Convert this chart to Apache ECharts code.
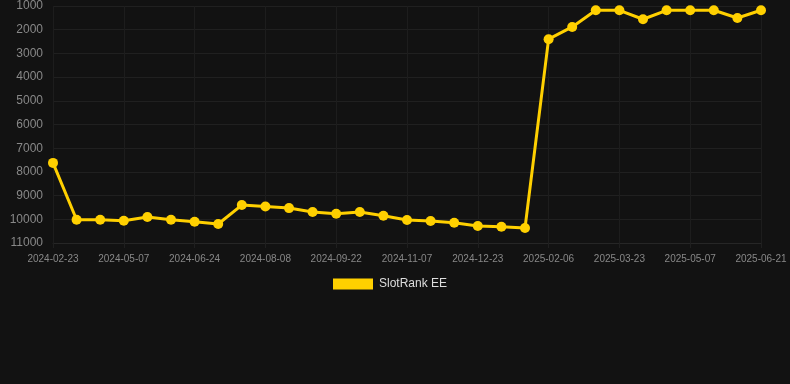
<!DOCTYPE html>
<html><head><meta charset="utf-8">
<script src="https://cdn.jsdelivr.net/npm/echarts@6/dist/echarts.min.js"></script>
<style>html,body{margin:0;padding:0;background:#121212;}#c{width:790px;height:384px;}</style>
</head><body><div id="c"></div>
<script>
const categories = ["2024-02-23","2024-03-10","2024-03-24","2024-05-07","2024-05-22","2024-06-08","2024-06-24","2024-07-09","2024-07-24","2024-08-08","2024-08-23","2024-09-07","2024-09-22","2024-10-07","2024-10-22","2024-11-07","2024-11-22","2024-12-07","2024-12-23","2025-01-07","2025-01-22","2025-02-06","2025-02-21","2025-03-08","2025-03-23","2025-04-07","2025-04-22","2025-05-07","2025-05-22","2025-06-06","2025-06-21"];
const rankValues = [7620,10020,10020,10060,9906,10020,10100,10200,9400,9460,9527,9695,9767,9695,9850,10030,10074,10146,10285,10314,10369,2400,1884,1181,1181,1560,1181,1181,1181,1505,1181];
const yTicks = [1000,2000,3000,4000,5000,6000,7000,8000,9000,10000,11000];
const seriesName = "SlotRank EE";

const chart = echarts.init(document.getElementById('c'));
chart.setOption({
  backgroundColor: '#121212',
  animation: false,
  grid: {left: 53, right: 29, top: 6, bottom: 141, containLabel: false},
  legend: {
    data: [seriesName], top: 278, left: 333, padding: 0,
    itemWidth: 40, itemHeight: 11, itemGap: 10,
    icon: 'rect',
    textStyle: {color: '#dddddd', fontSize: 12, padding: [0,0,0,1], fontFamily: 'Liberation Sans, Arial, sans-serif'}
  },
  xAxis: {
    type: 'category', data: categories, boundaryGap: false,
    axisLine: {lineStyle: {color: '#262626'}},
    axisTick: {show: true, alignWithLabel: true, interval: 2, lineStyle: {color: '#1f1f1f'}},
    axisLabel: {interval: 2, color: '#888888', fontSize: 10, margin: 11, fontFamily: 'Liberation Sans, Arial, sans-serif'},
    splitLine: {show: true, interval: 2, lineStyle: {color: '#1d1d1d'}}
  },
  yAxis: {
    type: 'value', inverse: true, min: yTicks[0], max: yTicks[yTicks.length-1], interval: 1000,
    axisLine: {show: false}, axisTick: {show: false},
    axisLabel: {color: '#888888', fontSize: 12, margin: 10, formatter: v => String(v), fontFamily: 'Liberation Sans, Arial, sans-serif'},
    splitLine: {lineStyle: {color: '#202020'}}
  },
  series: [{
    name: seriesName, type: 'line', data: rankValues,
    symbol: 'circle', symbolSize: 10,
    itemStyle: {color: '#FFD000'},
    lineStyle: {color: '#FFD000', width: 3}
  }]
});
</script></body></html>
